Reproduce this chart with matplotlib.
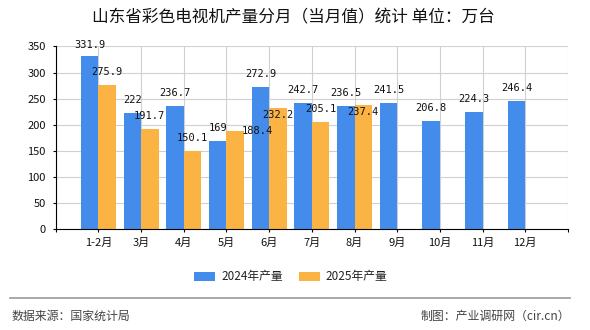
import numpy as np
import matplotlib
matplotlib.use("Agg")
import matplotlib.pyplot as plt
from matplotlib.lines import Line2D
from matplotlib.patches import Patch

plt.rcParams['font.family'] = ['Noto Sans CJK SC', 'DejaVu Sans']

# data
months = ['1-2月', '3月', '4月', '5月', '6月', '7月', '8月', '9月', '10月', '11月', '12月']
prod_2024 = [331.9, 222, 236.7, 169, 272.9, 242.7, 236.5, 241.5, 206.8, 224.3, 246.4]
prod_2025 = [275.9, 191.7, 150.1, 188.4, 232.2, 205.1, 237.4]
series_names = ['2024年产量', '2025年产量']

blue = '#438CEB'
orange = '#FBB443'
bar_w = 0.41

fig = plt.figure(figsize=(5.9, 3.3), dpi=100)
ax = fig.add_axes([0.0944, 0.3052, 0.8683, 0.5539])

x24 = np.arange(len(prod_2024))
x25 = np.arange(len(prod_2025))
bars24 = ax.bar(x24 - bar_w, prod_2024, width=bar_w, align='edge', color=blue, zorder=2)
bars25 = ax.bar(x25, prod_2025, width=bar_w, align='edge', color=orange, zorder=2)

# label nudges (pixels) where the original moved labels to avoid overlaps
nudge24 = {0: (0, 10.5)}
nudge25 = {3: (22, 0), 4: (0, -6.5), 6: (0, -7)}

def put_labels(bars, values, nudges):
    for i, (b, v) in enumerate(zip(bars, values)):
        dx, dy = nudges.get(i, (0, 13))
        ax.annotate(f'{v:g}', xy=(b.get_x() + b.get_width() / 2, b.get_height()),
                    xytext=(dx, dy), textcoords='offset pixels',
                    ha='center', va='center', fontsize=7.5,
                    family='DejaVu Sans Mono', color='#111111', zorder=3)

put_labels(bars24, prod_2024, nudge24)
put_labels(bars25, prod_2025, nudge25)

# axes formatting
ax.set_xlim(-1, 11)
ax.set_ylim(0, 350)
ax.set_yticks(np.arange(0, 351, 50))
ax.set_xticks(np.arange(-1, 12))
ax.set_xticklabels([''] + months + [''])
ax.tick_params(axis='both', direction='out', length=2.5, width=0.8, color='black',
               labelsize=8, labelcolor='#111111')
ax.tick_params(axis='y', pad=4.6)
ax.tick_params(axis='x', pad=3.4)
ax.set_axisbelow(True)
ax.grid(True, color='#d0d0d0', linewidth=0.8)
for side in ['top', 'right']:
    ax.spines[side].set_visible(False)
for side in ['left', 'bottom']:
    ax.spines[side].set_color('black')
    ax.spines[side].set_linewidth(0.8)

fig.text(0.4966, 0.945, '山东省彩色电视机产量分月（当月值）统计 单位：万台',
         ha='center', va='center', fontsize=12, color='#111111')

legend_elements = [Patch(facecolor=blue, label=series_names[0]),
                   Patch(facecolor=orange, label=series_names[1])]
fig.legend(handles=legend_elements, loc='center', bbox_to_anchor=(0.493, 0.161),
           ncol=2, frameon=False, fontsize=8.5, handlelength=1.78, handleheight=0.76,
           handletextpad=0.5, columnspacing=1.36, borderpad=0, labelcolor='#222222')

fig.add_artist(Line2D([10 / 590, 570 / 590], [0.096, 0.096], color='#999999', linewidth=1.2))
fig.text(0.02, 0.0403, '数据来源：国家统计局', ha='left', va='center', fontsize=8.6, color='#444444')
fig.text(0.966, 0.0403, '制图：产业调研网（cir.cn）', ha='right', va='center', fontsize=8.6, color='#444444')

fig.savefig('out.png', dpi=100)
